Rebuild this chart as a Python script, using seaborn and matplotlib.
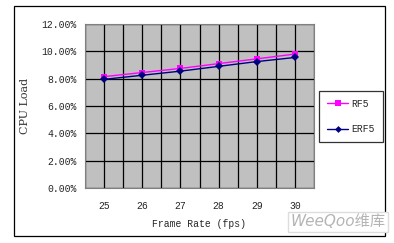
import matplotlib
matplotlib.use("Agg")
import matplotlib.pyplot as plt
import seaborn as sns
import pandas as pd
import numpy as np
from matplotlib.patches import Rectangle
from matplotlib.lines import Line2D

frame_rates = [25, 26, 27, 28, 29, 30]
rf5 = [8.15, 8.45, 8.75, 9.1, 9.45, 9.8]
erf5 = [7.95, 8.25, 8.55, 8.9, 9.25, 9.55]
y_ticks = [0, 2, 4, 6, 8, 10, 12]

df = pd.DataFrame({
    "fps": frame_rates * 2,
    "load": rf5 + erf5,
    "series": ["RF5"] * len(rf5) + ["ERF5"] * len(erf5),
})

sns.set_style("white")
plt.rcParams["font.family"] = ["Liberation Mono", "Noto Sans CJK SC"]

fig = plt.figure(figsize=(3.94, 2.43), dpi=100)
ax = fig.add_axes([85/394, 1-188/243, (314-85)/394, (188-24)/243])
ax.set_facecolor("#C0C0C0")

sns.lineplot(data=df, x="fps", y="load", hue="series", style="series",
             palette={"RF5": "#FF00FF", "ERF5": "#000080"},
             markers={"RF5": "s", "ERF5": "D"}, dashes=False,
             markersize=4.5, linewidth=1.0, markeredgewidth=0, ax=ax, legend=False)

ax.set_xlim(24.5, 30.5)
ax.set_ylim(0, 12)
ax.set_xticks(frame_rates)
ax.set_xticks(np.arange(24.5, 30.6, 1.0), minor=True)
ax.set_yticks(y_ticks)
ax.set_yticklabels([f"{v:.2f}%" for v in y_ticks])
ax.grid(True, which="both", color="black", linewidth=0.9)
ax.set_axisbelow(True)
ax.tick_params(which="both", length=0, labelsize=7, pad=6)
ax.tick_params(axis="x", pad=9)
for s in ax.spines.values():
    s.set_color("#808080")
    s.set_linewidth(0.8)
ax.set_xlabel("Frame Rate (fps)", fontsize=7, labelpad=6)
ax.set_ylabel("CPU Load", fontsize=8, family=["DejaVu Serif"], color="#333333", labelpad=8)

# outer chart frame
fig.patches.append(Rectangle((14/394, 1-236/243), (385-14)/394, (236-6)/243,
                             transform=fig.transFigure, fill=False,
                             edgecolor="black", linewidth=0.9))

handles = [Line2D([], [], color="#FF00FF", marker="s", markersize=4.5, markeredgewidth=0, lw=1),
           Line2D([], [], color="#000080", marker="D", markersize=3.5, markeredgewidth=0, lw=1)]
leg = fig.legend(handles, ["RF5", "ERF5"], loc="center",
                 bbox_to_anchor=(351/394, 1-116.5/243), fontsize=7,
                 frameon=True, fancybox=False, edgecolor="black",
                 handlelength=2.2, handletextpad=0.3, labelspacing=1.6,
                 borderpad=0.8, borderaxespad=0)
leg.get_frame().set_linewidth(0.9)

fig.text(338/394, 1-222/243, "WeeQoo维库", fontsize=11, color="#B4B4B4",
         ha="center", va="center", style="italic",
         family=["DejaVu Sans", "Noto Sans CJK SC"],
         bbox=dict(facecolor="white", edgecolor="#DDDDDD", pad=1.5))

fig.savefig("out.png", dpi=100)
